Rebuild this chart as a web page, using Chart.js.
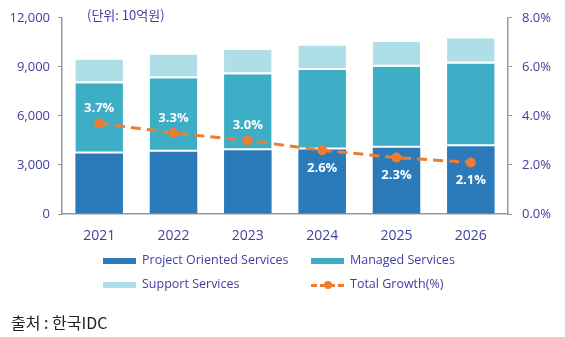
<!DOCTYPE html>
<html>
<head>
<meta charset="utf-8">
<script src="https://cdn.jsdelivr.net/npm/chart.js@4/dist/chart.umd.min.js"></script>
<style>
  body { margin: 0; background: #fff; font-family: 'Open Sans', 'Noto Sans CJK KR', sans-serif; }
  #wrap { position: relative; width: 565px; height: 337px; }
  #unit { position: absolute; left: 87px; top: 5px; font-size: 13px; color: #4040a0; font-family: 'Noto Sans CJK KR', sans-serif; }
  .lg { position: absolute; font-size: 12.5px; color: #4040a0; white-space: nowrap; }
  .lg i { position: absolute; top: 7px; height: 6px; width: 33px; }
  .lg span { position: absolute; left: 39px; top: 0; }
  #src { position: absolute; left: 11px; top: 310px; font-size: 16px; color: #222; font-family: 'Noto Sans CJK KR', sans-serif; }
</style>
</head>
<body>
<div id="wrap">
  <canvas id="chart" width="565" height="337"></canvas>
  <div id="unit">(단위: 10억원)</div>
  <div class="lg" style="left:103px; top:251px"><i style="background:#2b7bba"></i><span>Project Oriented Services</span></div>
  <div class="lg" style="left:311px; top:251px"><i style="background:#3daec6"></i><span>Managed Services</span></div>
  <div class="lg" style="left:103px; top:275px"><i style="background:#afdfe6"></i><span>Support Services</span></div>
  <div class="lg" style="left:311px; top:275px">
    <i style="background:none; border-top:3px dashed #ed7d31; height:0; top:9px"></i>
    <b style="position:absolute; left:13px; top:6px; width:8px; height:8px; border-radius:4px; background:#ed7d31"></b>
    <span>Total Growth(%)</span></div>
  <div id="src">출처 : 한국IDC</div>
</div>
<script>
const years = ['2021', '2022', '2023', '2024', '2025', '2026'];
const projectOriented = [3700, 3800, 3900, 3950, 4050, 4150];
const managed = [4300, 4500, 4650, 4850, 4950, 5050];
const support = [1450, 1450, 1500, 1500, 1520, 1550];
const totalGrowth = [3.7, 3.3, 3.0, 2.6, 2.3, 2.1];

const tickColor = '#4040a0';
const axisGrey = '#999999';

// growth labels: first three above the point, the rest below
const growthLabels = {
    id: 'growthLabels',
    afterDatasetsDraw(chart) {
        const meta = chart.getDatasetMeta(0);
        const ctx = chart.ctx;
        ctx.save();
        ctx.font = 'bold 13px "Open Sans"';
        ctx.fillStyle = '#ffffff';
        ctx.textAlign = 'center';
        ctx.textBaseline = 'middle';
        meta.data.forEach((pt, i) => {
            const dy = i < 3 ? -15 : 18;
            ctx.fillText(totalGrowth[i].toFixed(1) + '%', pt.x, pt.y + dy);
        });
        ctx.restore();
    }
};

const ctx = document.getElementById('chart').getContext('2d');
new Chart(ctx, {
    data: {
        labels: years,
        datasets: [
            {
                type: 'line',
                label: 'Total Growth(%)',
                data: totalGrowth,
                yAxisID: 'y1',
                borderColor: '#ed7d31',
                backgroundColor: '#ed7d31',
                borderWidth: 3,
                borderDash: [10, 6],
                pointRadius: 3.5,
                order: 0
            },
            {
                type: 'bar',
                label: 'Project Oriented Services',
                data: projectOriented,
                backgroundColor: '#2b7bba',
                order: 1
            },
            {
                type: 'bar',
                label: 'Managed Services',
                data: managed,
                backgroundColor: '#3daec6',
                borderColor: '#ffffff',
                borderWidth: { top: 0, left: 0, right: 0, bottom: 2 },
                borderSkipped: false,
                order: 1
            },
            {
                type: 'bar',
                label: 'Support Services',
                data: support,
                backgroundColor: '#afdfe6',
                borderColor: '#ffffff',
                borderWidth: { top: 0, left: 0, right: 0, bottom: 2 },
                borderSkipped: false,
                order: 1
            }
        ]
    },
    options: {
        responsive: false,
        animation: false,
        datasets: { bar: { barPercentage: 0.64, categoryPercentage: 1 } },
        layout: { padding: { top: 15, bottom: 83, left: 0, right: 0 } },
        plugins: {
            legend: { display: false },
            tooltip: { enabled: false }
        },
        scales: {
            x: {
                stacked: true,
                grid: { display: false, drawTicks: false },
                border: { color: axisGrey, width: 1.5 },
                ticks: { color: tickColor, font: { family: 'Open Sans', size: 14 }, padding: 14 },
                afterFit: s => { s.height = 40; }
            },
            y: {
                stacked: true,
                position: 'left',
                min: 0, max: 12000,
                grid: { drawOnChartArea: false, tickLength: 4, color: axisGrey },
                border: { color: axisGrey, width: 1.5 },
                ticks: {
                    stepSize: 3000,
                    color: tickColor,
                    padding: 8,
                    font: { family: 'Open Sans', size: 13 },
                    callback: v => v.toLocaleString('en-US')
                },
                afterFit: s => { s.width = 62; }
            },
            y1: {
                position: 'right',
                min: 0, max: 8,
                grid: { drawOnChartArea: false, tickLength: 4, color: axisGrey },
                border: { color: axisGrey, width: 1.5 },
                ticks: {
                    stepSize: 2,
                    color: tickColor,
                    padding: 10,
                    font: { family: 'Open Sans', size: 13 },
                    callback: v => v.toFixed(1) + '%'
                },
                afterFit: s => { s.width = 57; }
            }
        }
    },
    plugins: [growthLabels]
});
</script>
</body>
</html>
